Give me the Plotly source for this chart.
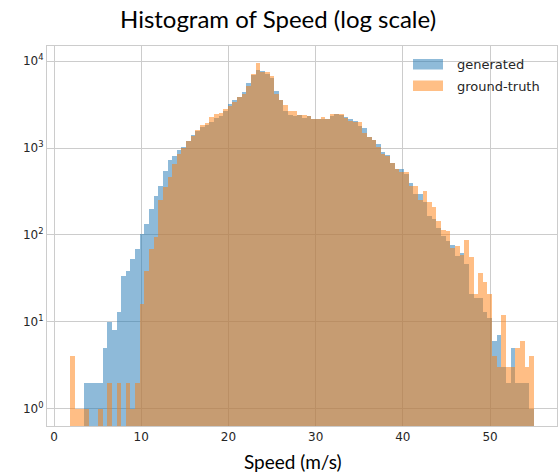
import numpy as np
import plotly.graph_objects as go

# ---- data: histogram counts on 100 shared bins ----
bin_start = 1.85
bin_end = 55.02
n_bins = 100

generated = [
    0, 0, 0, 2, 2, 2, 2, 5, 10, 8,
    13, 34, 38, 53, 69, 103, 134, 199, 283, 368,
    537, 725, 812, 944, 1030, 1206, 1402, 1570, 1750, 1850,
    1990, 2215, 2335, 2700, 3226, 3527, 3848, 4426, 5610, 7000,
    7995, 7785, 7115, 6400, 4510, 3527, 2660, 2375, 2335, 2395,
    2200, 2335, 2172, 2140, 2140, 2172, 2335, 2440, 2375, 2270,
    2140, 2043, 1791, 1686, 1352, 1228, 1124, 902, 834, 680,
    572, 572, 501, 391, 296, 296, 237, 167, 153, 121,
    98, 86, 77, 57, 62, 46, 21, 19, 19, 13,
    11, 6, 7, 3, 2, 5, 2, 2, 2, 1,
]
ground_truth = [
    4, 1, 1, 1, 0, 0, 1, 0, 2, 0,
    2, 0, 2, 1, 2, 16, 38, 68, 95, 252,
    358, 467, 663, 849, 1012, 1206, 1380, 1600, 1840, 1955,
    2270, 2440, 2545, 2780, 3035, 3400, 3848, 4130, 5140, 7115,
    9440, 7500, 7500, 6700, 4200, 3527, 3090, 2660, 2660, 2395,
    2420, 2335, 2172, 2140, 2270, 2172, 2440, 2440, 2477, 2200,
    2043, 1990, 1990, 1503, 1352, 1228, 1030, 849, 812, 680,
    572, 523, 523, 368, 368, 252, 323, 237, 208, 146,
    114, 110, 71, 74, 58, 88, 56, 21, 36, 29,
    21, 4, 3, 12, 3, 3, 5, 6, 3, 4,
]
series_names = ["generated", "ground-truth"]
series_colors = ["#1f77b4", "#ff7f0e"]
y_tick_vals = [1, 10, 100, 1000, 10000]
y_tick_text = ["10<sup>0</sup>", "10<sup>1</sup>", "10<sup>2</sup>", "10<sup>3</sup>", "10<sup>4</sup>"]
x_tick_vals = [0, 10, 20, 30, 40, 50]

edges = np.linspace(bin_start, bin_end, n_bins + 1)
centers = (edges[:-1] + edges[1:]) / 2
width = edges[1] - edges[0]

fig = go.Figure()
for name, col, counts in zip(series_names, series_colors, [generated, ground_truth]):
    c = np.array(counts, dtype=float)
    c[c <= 0] = np.nan
    fig.add_trace(go.Bar(
        x=centers, y=c, width=width, name=name,
        marker=dict(color=col, line=dict(width=0)),
        opacity=0.5, showlegend=False,
    ))

W, H = 559, 474
L, R, T, B = 47, 2, 46, 48
pw, ph = W - L - R, H - T - B

def px_x(p):
    return (p - L) / pw

def px_y(p):
    return (H - B - p) / ph

grid = "#cccccc"
tick_font = dict(family="DejaVu Sans", size=12, color="#262626")

fig.update_layout(
    width=W, height=H,
    margin=dict(l=L, r=R, t=T, b=B),
    paper_bgcolor="white", plot_bgcolor="white",
    barmode="overlay", bargap=0,
    xaxis=dict(range=[-0.81, 57.68], tickvals=x_tick_vals, showgrid=True,
               gridcolor=grid, gridwidth=1, zeroline=False, showline=True,
               linecolor=grid, linewidth=1, mirror=True, ticks="",
               tickfont=tick_font),
    yaxis=dict(type="log", range=[-0.199, 4.174], tickvals=y_tick_vals,
               ticktext=y_tick_text, showgrid=True, gridcolor=grid, gridwidth=1,
               zeroline=False, showline=True, linecolor=grid, linewidth=1,
               mirror=True, ticks="", tickfont=tick_font),
    annotations=[
        dict(text="Histogram of Speed (log scale)", xref="paper", yref="paper",
             x=px_x(278), y=px_y(19), xanchor="center", yanchor="middle",
             showarrow=False, font=dict(family="Lato", size=24, color="black")),
        dict(text="Speed (m/s)", xref="paper", yref="paper",
             x=px_x(293), y=px_y(461), xanchor="center", yanchor="middle",
             showarrow=False, font=dict(family="Lato", size=19, color="black")),
        dict(text=series_names[0], xref="paper", yref="paper",
             x=px_x(455), y=px_y(64), xanchor="left", yanchor="middle",
             showarrow=False, font=dict(family="DejaVu Sans", size=13, color="#262626")),
        dict(text=series_names[1], xref="paper", yref="paper",
             x=px_x(455), y=px_y(86), xanchor="left", yanchor="middle",
             showarrow=False, font=dict(family="DejaVu Sans", size=13, color="#262626")),
    ],
    shapes=[
        dict(type="rect", xref="paper", yref="paper", x0=px_x(413), x1=px_x(443),
             y0=px_y(69.5), y1=px_y(59), fillcolor=series_colors[0], opacity=0.5,
             line=dict(width=0)),
        dict(type="rect", xref="paper", yref="paper", x0=px_x(413), x1=px_x(443),
             y0=px_y(91), y1=px_y(80.5), fillcolor=series_colors[1], opacity=0.5,
             line=dict(width=0)),
    ],
)

fig.write_html("out.html")
